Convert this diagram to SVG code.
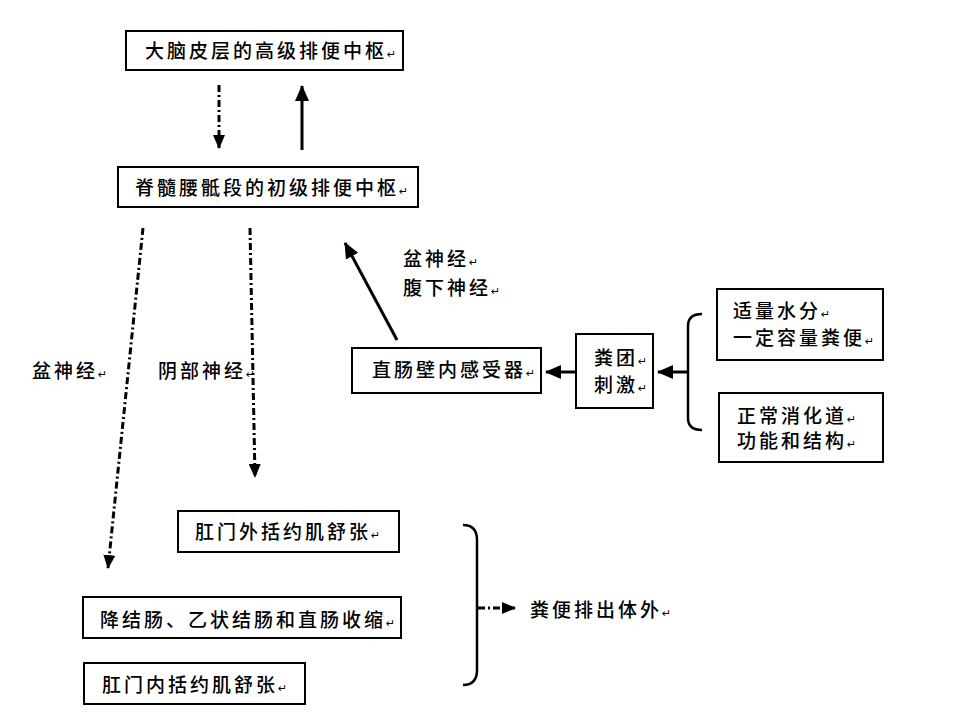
<svg xmlns="http://www.w3.org/2000/svg" width="960" height="720" viewBox="0 0 960 720">
<style>
.box{fill:#fff;stroke:#000;stroke-width:2}
.t{font-family:"Noto Sans CJK SC","Noto Sans CJK JP",sans-serif;font-size:19px;font-weight:500;letter-spacing:3px;fill:#000}
.r{font-family:"DejaVu Sans",sans-serif;font-size:11px;letter-spacing:0}
.solid{stroke:#000;stroke-width:3;fill:none}
.dd{stroke:#000;stroke-width:3;fill:none;stroke-dasharray:7 3 2 3}
.br{stroke:#000;stroke-width:2.5;fill:none}
</style>
<defs>
<marker id="ah" markerUnits="userSpaceOnUse" markerWidth="16" markerHeight="14" viewBox="0 0 16 14" refX="15" refY="7" orient="auto">
<path d="M0,0 L16,7 L0,14 Z" fill="#000"/>
</marker>
<marker id="ahs" markerUnits="userSpaceOnUse" markerWidth="14" markerHeight="12" viewBox="0 0 14 12" refX="13" refY="6" orient="auto">
<path d="M0,0 L14,6 L0,12 Z" fill="#000"/>
</marker>
</defs>
<rect width="960" height="720" fill="#fff"/>

<g id="connectors">
<line class="dd" x1="219" y1="85" x2="219" y2="148" marker-end="url(#ahs)"/>
<line class="solid" x1="302" y1="150" x2="302" y2="86" marker-end="url(#ah)"/>
<line class="dd" x1="143" y1="228" x2="108" y2="568" marker-end="url(#ahs)"/>
<line class="dd" x1="250" y1="228" x2="255" y2="477" marker-end="url(#ahs)"/>
<line class="solid" x1="397" y1="340" x2="345" y2="243" marker-end="url(#ah)"/>
<line class="solid" x1="576" y1="372" x2="546" y2="372" marker-end="url(#ah)"/>
<line class="solid" x1="688" y1="372" x2="658" y2="372" marker-end="url(#ah)"/>
<path class="br" d="M702,314 Q688,314 688,326 L688,418 Q688,430 702,430"/>
<path class="br" d="M463,525 Q477,525 477,540 L477,670 Q477,685 463,685"/>
<line class="dd" x1="478" y1="608" x2="515" y2="608" marker-end="url(#ahs)"/>
</g>

<g id="n_brain">
<rect class="box" x="126" y="31" width="277" height="39"/>
<text class="t" x="145" y="58">大脑皮层的高级排便中枢<tspan class="r">↵</tspan></text>
</g>
<g id="n_spinal">
<rect class="box" x="118" y="167" width="300" height="40"/>
<text class="t" x="135" y="195">脊髓腰骶段的初级排便中枢<tspan class="r">↵</tspan></text>
</g>
<g id="l_pelvic_left">
<text class="t" x="32" y="378">盆神经<tspan class="r">↵</tspan></text>
</g>
<g id="l_pudendal">
<text class="t" x="158" y="378">阴部神经<tspan class="r">↵</tspan></text>
</g>
<g id="l_afferent">
<text class="t" x="403" y="266">盆神经<tspan class="r">↵</tspan></text>
<text class="t" x="403" y="295">腹下神经<tspan class="r">↵</tspan></text>
</g>
<g id="n_receptor">
<rect class="box" x="352" y="348" width="189" height="45"/>
<text class="t" x="372" y="377">直肠壁内感受器<tspan class="r">↵</tspan></text>
</g>
<g id="n_stimulus">
<rect class="box" x="576" y="334" width="77" height="74"/>
<text class="t" x="594" y="365">粪团<tspan class="r">↵</tspan></text>
<text class="t" x="594" y="392">刺激<tspan class="r">↵</tspan></text>
</g>
<g id="n_water">
<rect class="box" x="717" y="289" width="166" height="71"/>
<text class="t" x="733" y="318">适量水分<tspan class="r">↵</tspan></text>
<text class="t" x="733" y="345">一定容量粪便<tspan class="r">↵</tspan></text>
</g>
<g id="n_tract">
<rect class="box" x="719" y="393" width="164" height="69"/>
<text class="t" x="737" y="423">正常消化道<tspan class="r">↵</tspan></text>
<text class="t" x="737" y="448">功能和结构<tspan class="r">↵</tspan></text>
</g>
<g id="n_external">
<rect class="box" x="178" y="511" width="221" height="41"/>
<text class="t" x="195" y="539">肛门外括约肌舒张<tspan class="r">↵</tspan></text>
</g>
<g id="n_colon">
<rect class="box" x="83" y="597" width="318" height="41"/>
<text class="t" x="100" y="627">降结肠、乙状结肠和直肠收缩<tspan class="r">↵</tspan></text>
</g>
<g id="n_internal">
<rect class="box" x="84" y="663" width="221" height="41"/>
<text class="t" x="102" y="692">肛门内括约肌舒张<tspan class="r">↵</tspan></text>
</g>
<g id="l_expel">
<text class="t" x="530" y="617">粪便排出体外<tspan class="r">↵</tspan></text>
</g>
</svg>
